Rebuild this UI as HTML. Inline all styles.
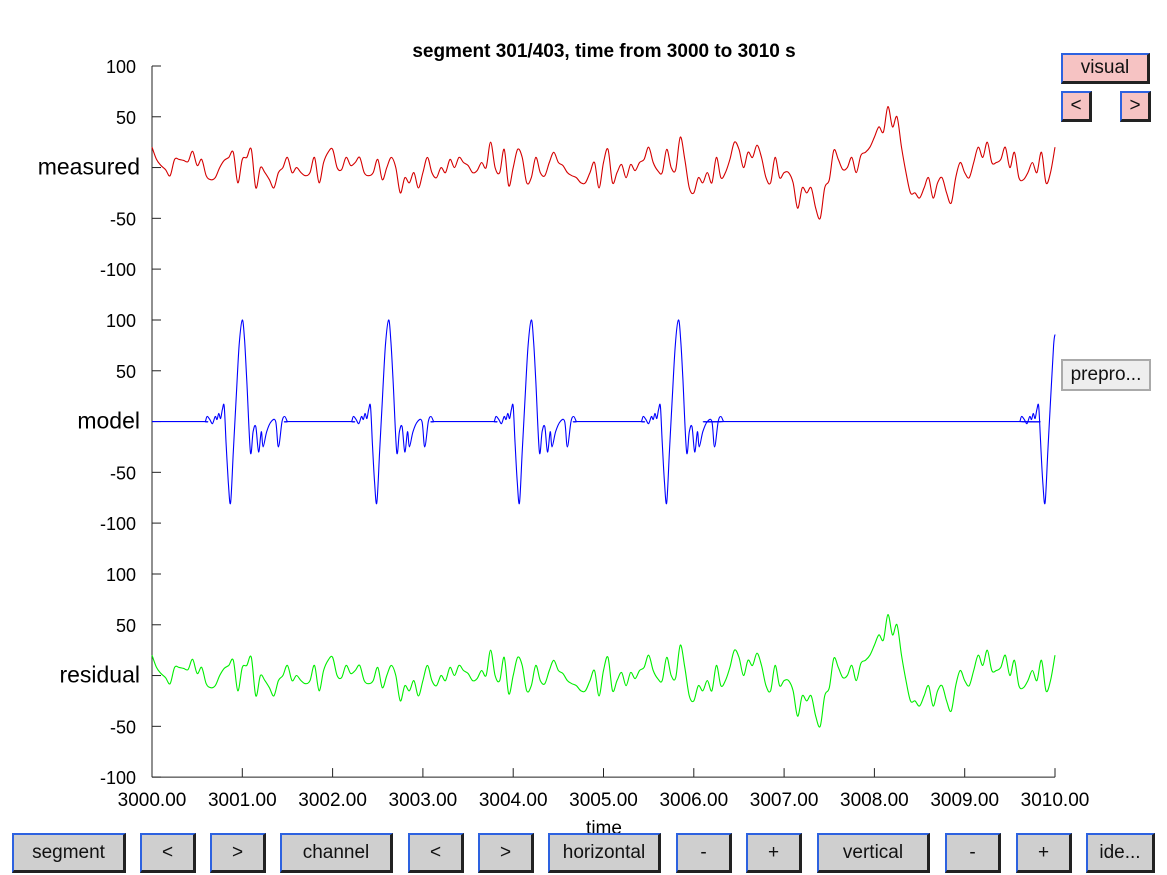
<!DOCTYPE html>
<html><head><meta charset="utf-8">
<style>
body{margin:0;background:#fff;width:1167px;height:875px;overflow:hidden;position:relative;font-family:"Liberation Sans",Arial,sans-serif;}
.btn{position:absolute;box-sizing:border-box;background:#cfcfcf;border-top:2px solid #2d62e0;border-left:2px solid #2d62e0;border-right:3px solid #222;border-bottom:3px solid #222;font-size:19px;color:#111;display:flex;align-items:center;justify-content:center;}
.pink{background:#f6c3c3;}
#chart{position:absolute;left:0;top:0;}
</style></head><body>
<svg id="chart" width="1167" height="875">
<text x="604" y="57" text-anchor="middle" font-size="19" font-weight="bold">segment 301/403, time from 3000 to 3010 s</text>
<g id="axes"></g>
<g id="series"></g>
<text x="604" y="834" text-anchor="middle" font-size="19">time</text>
</svg>
<div class="btn" style="left:12px;top:833px;width:114px;height:40px">segment</div>
<div class="btn" style="left:140px;top:833px;width:56px;height:40px">&lt;</div>
<div class="btn" style="left:210px;top:833px;width:56px;height:40px">&gt;</div>
<div class="btn" style="left:280px;top:833px;width:113px;height:40px">channel</div>
<div class="btn" style="left:408px;top:833px;width:56px;height:40px">&lt;</div>
<div class="btn" style="left:478px;top:833px;width:56px;height:40px">&gt;</div>
<div class="btn" style="left:548px;top:833px;width:113px;height:40px">horizontal</div>
<div class="btn" style="left:676px;top:833px;width:56px;height:40px">-</div>
<div class="btn" style="left:746px;top:833px;width:56px;height:40px">+</div>
<div class="btn" style="left:817px;top:833px;width:113px;height:40px">vertical</div>
<div class="btn" style="left:945px;top:833px;width:56px;height:40px">-</div>
<div class="btn" style="left:1016px;top:833px;width:56px;height:40px">+</div>
<div class="btn" style="left:1086px;top:833px;width:69px;height:40px">ide...</div>
<div class="btn pink" style="left:1061px;top:53px;width:89px;height:31px">visual</div>
<div class="btn pink" style="left:1061px;top:91px;width:31px;height:31px">&lt;</div>
<div class="btn pink" style="left:1120px;top:91px;width:31px;height:31px">&gt;</div>
<div class="btn" style="left:1061px;top:359px;width:90px;height:32px;background:#eee;border:2px solid #aaa">prepro...</div>
<script>
const channels = ["measured","model","residual"];
const yTicks = [100,50,0,-50,-100];
const xTicks = [3000,3001,3002,3003,3004,3005,3006,3007,3008,3009,3010];
const sampleStart = 3000, sampleStep = 0.05;
const measured = [20,8,2,-2,-8,8,8,7,6,16,2,8,-8,-12,-10,0,7,10,15,-15,
8,10,18,-20,0,-5,-12,-20,-5,0,10,-5,0,-5,-8,-5,10,-15,5,15,
18,0,-2,10,2,5,10,-5,-8,-5,8,-12,0,10,0,-25,-10,-15,-5,-20,
-5,10,-5,-10,0,-5,8,0,10,5,2,-5,-3,5,0,25,0,-5,18,-18,
0,18,10,-15,-10,10,-5,-8,5,15,5,2,-5,-8,-10,-15,-15,-5,5,-20,
5,18,-15,-5,3,-10,3,-3,5,8,20,5,-3,-5,18,0,-2,30,8,-20,
-25,-10,-15,-5,-15,10,-10,-5,8,25,18,0,15,10,22,10,-10,-15,10,-10,
-5,-5,-15,-40,-20,-25,-20,-40,-50,-20,-12,17,8,-2,0,10,-5,12,15,20,
30,40,35,60,40,50,20,-5,-25,-25,-30,-20,-10,-30,-15,-10,-25,-35,-10,5,
-5,-10,5,20,10,25,5,5,8,20,0,15,-10,-12,-5,5,-5,15,-15,-5,20];
const residual = [20,8,2,-2,-8,8,8,7,6,16,2,8,-8,-12,-10,0,7,10,15,-15,
8,10,18,-20,0,-5,-12,-20,-5,0,10,-5,0,-5,-8,-5,10,-15,5,15,
18,0,-2,10,2,5,10,-5,-8,-5,8,-12,0,10,0,-25,-10,-15,-5,-20,
-5,10,-5,-10,0,-5,8,0,10,5,2,-5,-3,5,0,25,0,-5,18,-18,
0,18,10,-15,-10,10,-5,-8,5,15,5,2,-5,-8,-10,-15,-15,-5,5,-20,
5,18,-15,-5,3,-10,3,-3,5,8,20,5,-3,-5,18,0,-2,30,8,-20,
-25,-10,-15,-5,-15,10,-10,-5,8,25,18,0,15,10,22,10,-10,-15,10,-10,
-5,-5,-15,-40,-20,-25,-20,-40,-50,-20,-12,17,8,-2,0,10,-5,12,15,20,
30,40,35,60,40,50,20,-5,-25,-25,-30,-20,-10,-30,-15,-10,-25,-35,-10,5,
-5,-10,5,20,10,25,5,5,8,20,0,15,-10,-12,-5,5,-5,15,-15,-5,20];
const spikeTimes = [3001.0, 3002.62, 3004.2, 3005.83, 3010.02];
const templateOffsets = [-0.41,-0.39,-0.36,-0.33,-0.30,-0.28,-0.26,-0.24,-0.22,-0.20,-0.18,-0.155,-0.13,-0.10,-0.07,-0.035,0,0.025,0.05,0.09,0.12,0.15,0.18,0.21,0.23,0.27,0.32,0.37,0.40,0.44,0.47,0.50];
const templateValues = [0,5,2,-2,5,2,8,3,12,15,-20,-60,-80,-30,20,75,100,80,40,-30,-10,-5,-30,-10,-25,-10,0,0,-25,0,5,0];

const X0=152,X1=1055,TOP=66,PXU=1.0155,CH=254;
const xs = t => X0+(t-3000)*(X1-X0)/10;
const ys = (ch,v) => TOP+100*PXU+ch*CH - v*PXU;
const NS="http://www.w3.org/2000/svg";
const axes=document.getElementById('axes'), series=document.getElementById('series');
function mk(tag,attrs,parent){const e=document.createElementNS(NS,tag);for(const k in attrs)e.setAttribute(k,attrs[k]);parent.appendChild(e);return e;}
const yBottom = ys(2,-100);
const yl=mk('line',{x1:X0,y1:TOP,x2:X0,y2:yBottom,stroke:'#222','stroke-width':1},axes);


const xl=mk('line',{x1:X0,y1:yBottom,x2:X1,y2:yBottom,stroke:'#222','stroke-width':1},axes);


channels.forEach((name,ci)=>{
  yTicks.forEach(v=>{
    const y=ys(ci,v);
    const tk=mk('line',{x1:X0,y1:y,x2:X0+9,y2:y,stroke:'#222'},axes);
    
    
    const t=mk('text',{x:v===0?140:136,y:y+7,'text-anchor':'end','font-size':v===0?23:18},axes);
    t.textContent = v===0?name:String(v);
    
    
  });
});
xTicks.forEach(v=>{
  const x=xs(v);
  const tk=mk('line',{x1:x,y1:yBottom,x2:x,y2:yBottom-9,stroke:'#222'},axes);
  
  
  const t=mk('text',{x:x,y:yBottom+29,'text-anchor':'middle','font-size':19},axes);
  t.textContent=v.toFixed(2);
  
  
});
function drawLine(ci,times,vals,color,name){
  const P=times.map((t,i)=>[xs(t),ys(ci,vals[i])]);
  let d='M'+P[0][0].toFixed(1)+','+P[0][1].toFixed(1);
  for(let i=0;i<P.length-1;i++){
    const p0=P[Math.max(0,i-1)],p1=P[i],p2=P[i+1],p3=P[Math.min(P.length-1,i+2)];
    const c1=[p1[0]+(p2[0]-p0[0])/6,p1[1]+(p2[1]-p0[1])/6];
    const c2=[p2[0]-(p3[0]-p1[0])/6,p2[1]-(p3[1]-p1[1])/6];
    d+=' C'+c1[0].toFixed(1)+','+c1[1].toFixed(1)+' '+c2[0].toFixed(1)+','+c2[1].toFixed(1)+' '+p2[0].toFixed(1)+','+p2[1].toFixed(1);
  }
  const p=mk('path',{d:d,fill:'none',stroke:color,'stroke-width':1.1,'stroke-linejoin':'round'},series);
  
  
}
const mt=measured.map((_,i)=>sampleStart+i*sampleStep);
drawLine(0,mt,measured,'#d40000','measured-trace');
const rt=residual.map((_,i)=>sampleStart+i*sampleStep);
drawLine(2,rt,residual,'#00ee00','residual-trace');
let modT=[3000],modV=[0];
spikeTimes.forEach(s=>{
  if(s+templateOffsets[0]>modT[modT.length-1]+0.05){modT.push(s+templateOffsets[0]-0.02);modV.push(0);}
  templateOffsets.forEach((o,i)=>{const t=s+o; if(t<=3010){modT.push(t);modV.push(templateValues[i]);}});
  const e=s+templateOffsets[templateOffsets.length-1];
  if(e<3009.9){modT.push(e+0.02);modV.push(0);}
});
const last=spikeTimes[spikeTimes.length-1];
if(last+templateOffsets[templateOffsets.length-1]<3010){modT.push(3010);modV.push(0);}
else{
  for(let i=1;i<templateOffsets.length;i++){const a=last+templateOffsets[i-1],b=last+templateOffsets[i];
    if(a<=3010&&b>3010){const f=(3010-a)/(b-a);modT.push(3010);modV.push(templateValues[i-1]+f*(templateValues[i]-templateValues[i-1]));break;}}
}
drawLine(1,modT,modV,'#0000ff','model-trace');
</script>
</body></html>
